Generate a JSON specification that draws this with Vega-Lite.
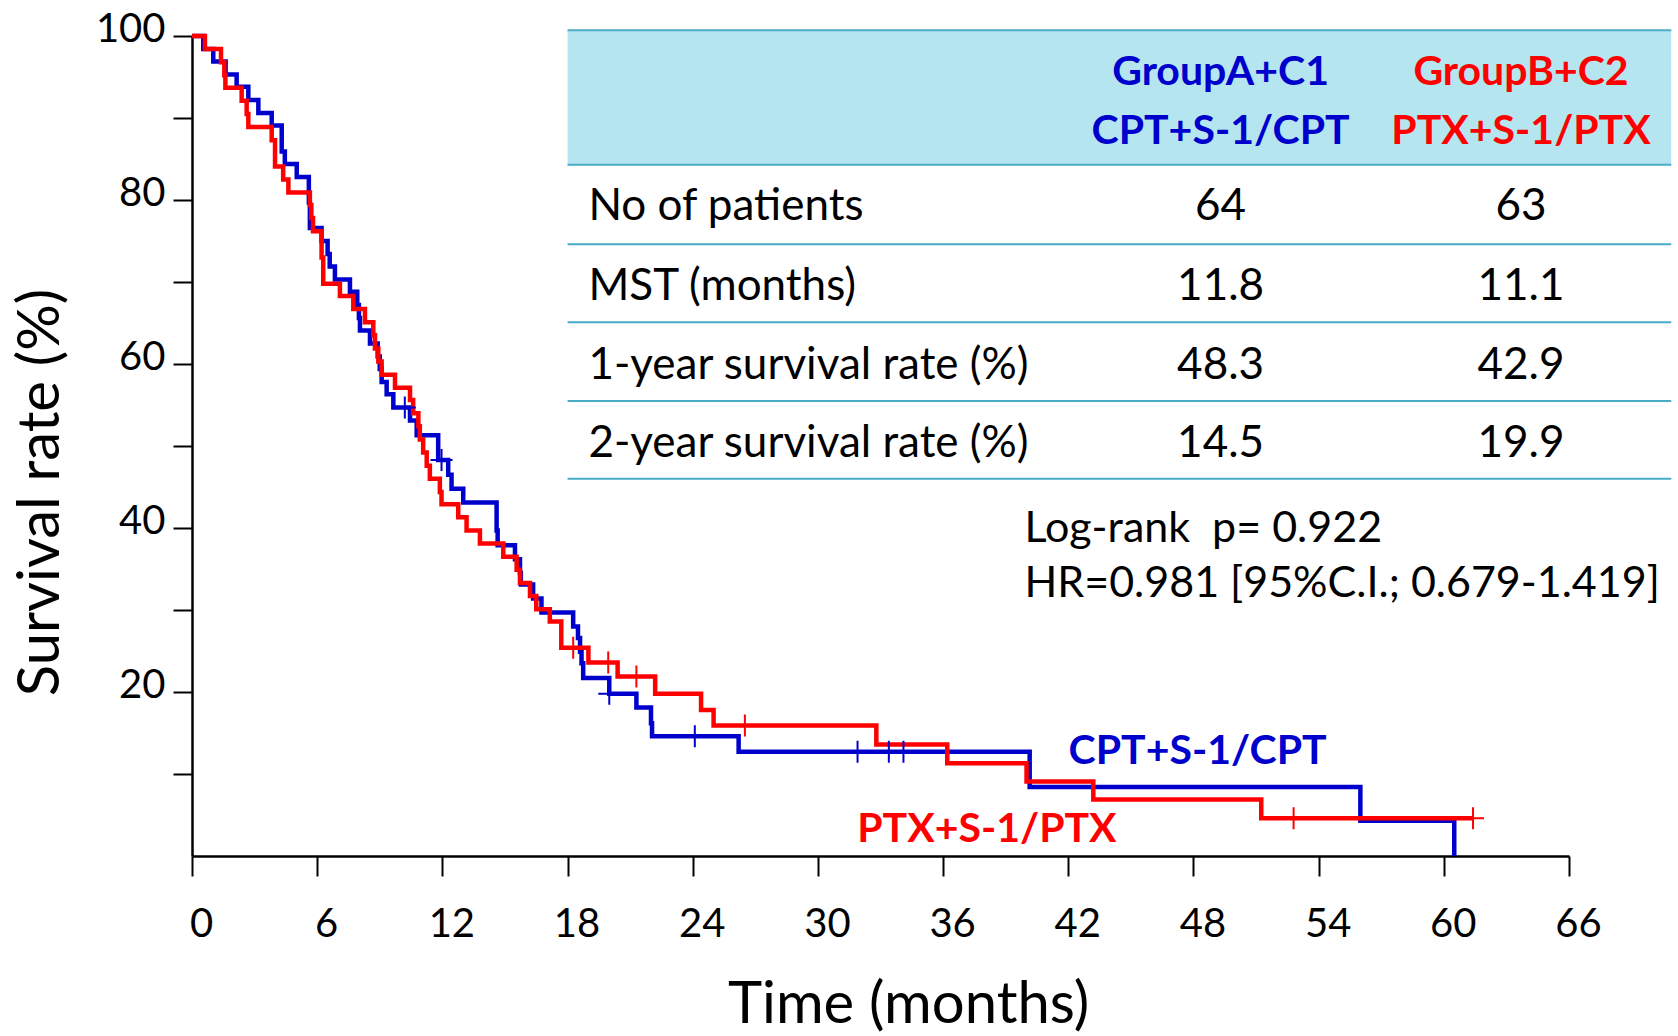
{
  "$schema": "https://vega.github.io/schema/vega-lite/v6.json",
  "width": 1377,
  "height": 820,
  "autosize": {"type": "none"},
  "padding": {"left": 192, "top": 36, "right": 109, "bottom": 180},
  "background": "white",
  "config": {"view": {"stroke": null}, "font": "Lato"},
  "datasets": {
    "km": [
      {"group": "CPT+S-1/CPT", "t": 0, "s": 100},
      {"group": "CPT+S-1/CPT", "t": 0.54, "s": 98.4},
      {"group": "CPT+S-1/CPT", "t": 1.02, "s": 96.9},
      {"group": "CPT+S-1/CPT", "t": 1.61, "s": 95.3},
      {"group": "CPT+S-1/CPT", "t": 2.14, "s": 93.8},
      {"group": "CPT+S-1/CPT", "t": 2.7, "s": 92.2},
      {"group": "CPT+S-1/CPT", "t": 3.18, "s": 90.6},
      {"group": "CPT+S-1/CPT", "t": 3.82, "s": 89.1},
      {"group": "CPT+S-1/CPT", "t": 4.3, "s": 85.9},
      {"group": "CPT+S-1/CPT", "t": 4.45, "s": 84.4},
      {"group": "CPT+S-1/CPT", "t": 5.02, "s": 82.8},
      {"group": "CPT+S-1/CPT", "t": 5.6, "s": 79.7},
      {"group": "CPT+S-1/CPT", "t": 5.65, "s": 76.6},
      {"group": "CPT+S-1/CPT", "t": 6.21, "s": 75.0},
      {"group": "CPT+S-1/CPT", "t": 6.5, "s": 73.4},
      {"group": "CPT+S-1/CPT", "t": 6.6, "s": 71.9},
      {"group": "CPT+S-1/CPT", "t": 6.85, "s": 70.3},
      {"group": "CPT+S-1/CPT", "t": 7.57, "s": 68.8},
      {"group": "CPT+S-1/CPT", "t": 7.92, "s": 67.2},
      {"group": "CPT+S-1/CPT", "t": 8.0, "s": 65.6},
      {"group": "CPT+S-1/CPT", "t": 8.05, "s": 64.1},
      {"group": "CPT+S-1/CPT", "t": 8.53, "s": 62.5},
      {"group": "CPT+S-1/CPT", "t": 8.9, "s": 60.9},
      {"group": "CPT+S-1/CPT", "t": 9.0, "s": 59.4},
      {"group": "CPT+S-1/CPT", "t": 9.09, "s": 57.8},
      {"group": "CPT+S-1/CPT", "t": 9.33, "s": 56.3},
      {"group": "CPT+S-1/CPT", "t": 9.65, "s": 54.7},
      {"group": "CPT+S-1/CPT", "t": 10.45, "s": 53.1},
      {"group": "CPT+S-1/CPT", "t": 10.77, "s": 51.3},
      {"group": "CPT+S-1/CPT", "t": 11.8, "s": 48.3},
      {"group": "CPT+S-1/CPT", "t": 12.28, "s": 46.5},
      {"group": "CPT+S-1/CPT", "t": 12.44, "s": 44.8},
      {"group": "CPT+S-1/CPT", "t": 13.0, "s": 43.1},
      {"group": "CPT+S-1/CPT", "t": 14.6, "s": 39.7},
      {"group": "CPT+S-1/CPT", "t": 14.65, "s": 37.9},
      {"group": "CPT+S-1/CPT", "t": 15.48, "s": 36.2},
      {"group": "CPT+S-1/CPT", "t": 15.72, "s": 34.5},
      {"group": "CPT+S-1/CPT", "t": 15.76, "s": 33.1},
      {"group": "CPT+S-1/CPT", "t": 16.35, "s": 31.4},
      {"group": "CPT+S-1/CPT", "t": 16.75, "s": 29.7},
      {"group": "CPT+S-1/CPT", "t": 18.27, "s": 28.0},
      {"group": "CPT+S-1/CPT", "t": 18.5, "s": 26.6},
      {"group": "CPT+S-1/CPT", "t": 18.6, "s": 24.9},
      {"group": "CPT+S-1/CPT", "t": 18.67, "s": 23.5},
      {"group": "CPT+S-1/CPT", "t": 18.75, "s": 21.7},
      {"group": "CPT+S-1/CPT", "t": 20.0, "s": 19.8},
      {"group": "CPT+S-1/CPT", "t": 21.3, "s": 18.1},
      {"group": "CPT+S-1/CPT", "t": 22.0, "s": 16.2},
      {"group": "CPT+S-1/CPT", "t": 22.05, "s": 14.6},
      {"group": "CPT+S-1/CPT", "t": 26.2, "s": 12.7},
      {"group": "CPT+S-1/CPT", "t": 40.15, "s": 8.4},
      {"group": "CPT+S-1/CPT", "t": 56.0, "s": 4.3},
      {"group": "CPT+S-1/CPT", "t": 60.5, "s": 0},
      {"group": "PTX+S-1/PTX", "t": 0, "s": 100},
      {"group": "PTX+S-1/PTX", "t": 0.62, "s": 98.4},
      {"group": "PTX+S-1/PTX", "t": 1.39, "s": 96.8},
      {"group": "PTX+S-1/PTX", "t": 1.55, "s": 95.2},
      {"group": "PTX+S-1/PTX", "t": 1.6, "s": 93.7},
      {"group": "PTX+S-1/PTX", "t": 2.38, "s": 92.1},
      {"group": "PTX+S-1/PTX", "t": 2.62, "s": 90.5},
      {"group": "PTX+S-1/PTX", "t": 2.7, "s": 88.9},
      {"group": "PTX+S-1/PTX", "t": 3.82, "s": 87.3},
      {"group": "PTX+S-1/PTX", "t": 3.98, "s": 84.1},
      {"group": "PTX+S-1/PTX", "t": 4.37, "s": 82.5},
      {"group": "PTX+S-1/PTX", "t": 4.62, "s": 80.9},
      {"group": "PTX+S-1/PTX", "t": 5.65, "s": 79.4},
      {"group": "PTX+S-1/PTX", "t": 5.72, "s": 77.8},
      {"group": "PTX+S-1/PTX", "t": 5.8, "s": 76.2},
      {"group": "PTX+S-1/PTX", "t": 6.21, "s": 73.0},
      {"group": "PTX+S-1/PTX", "t": 6.29, "s": 69.8},
      {"group": "PTX+S-1/PTX", "t": 7.09, "s": 68.3},
      {"group": "PTX+S-1/PTX", "t": 7.73, "s": 66.7},
      {"group": "PTX+S-1/PTX", "t": 8.29, "s": 65.1},
      {"group": "PTX+S-1/PTX", "t": 8.69, "s": 63.5},
      {"group": "PTX+S-1/PTX", "t": 8.77, "s": 61.9},
      {"group": "PTX+S-1/PTX", "t": 8.93, "s": 60.3},
      {"group": "PTX+S-1/PTX", "t": 9.09, "s": 58.7},
      {"group": "PTX+S-1/PTX", "t": 9.73, "s": 57.1},
      {"group": "PTX+S-1/PTX", "t": 10.45, "s": 55.6},
      {"group": "PTX+S-1/PTX", "t": 10.6, "s": 54.0},
      {"group": "PTX+S-1/PTX", "t": 10.85, "s": 52.4},
      {"group": "PTX+S-1/PTX", "t": 10.92, "s": 50.8},
      {"group": "PTX+S-1/PTX", "t": 11.08, "s": 49.2},
      {"group": "PTX+S-1/PTX", "t": 11.25, "s": 47.6},
      {"group": "PTX+S-1/PTX", "t": 11.4, "s": 46.0},
      {"group": "PTX+S-1/PTX", "t": 11.88, "s": 44.4},
      {"group": "PTX+S-1/PTX", "t": 11.96, "s": 42.9},
      {"group": "PTX+S-1/PTX", "t": 12.76, "s": 41.3},
      {"group": "PTX+S-1/PTX", "t": 13.16, "s": 39.7},
      {"group": "PTX+S-1/PTX", "t": 13.8, "s": 38.1},
      {"group": "PTX+S-1/PTX", "t": 14.92, "s": 36.5},
      {"group": "PTX+S-1/PTX", "t": 15.56, "s": 34.9},
      {"group": "PTX+S-1/PTX", "t": 15.72, "s": 33.3},
      {"group": "PTX+S-1/PTX", "t": 16.2, "s": 31.7},
      {"group": "PTX+S-1/PTX", "t": 16.5, "s": 30.1},
      {"group": "PTX+S-1/PTX", "t": 17.15, "s": 28.6},
      {"group": "PTX+S-1/PTX", "t": 17.7, "s": 25.4},
      {"group": "PTX+S-1/PTX", "t": 19.0, "s": 23.6},
      {"group": "PTX+S-1/PTX", "t": 20.4, "s": 21.9},
      {"group": "PTX+S-1/PTX", "t": 22.2, "s": 19.8},
      {"group": "PTX+S-1/PTX", "t": 24.4, "s": 17.8},
      {"group": "PTX+S-1/PTX", "t": 25.0, "s": 15.9},
      {"group": "PTX+S-1/PTX", "t": 32.8, "s": 13.6},
      {"group": "PTX+S-1/PTX", "t": 36.2, "s": 11.3},
      {"group": "PTX+S-1/PTX", "t": 40.0, "s": 9.1},
      {"group": "PTX+S-1/PTX", "t": 43.2, "s": 6.9},
      {"group": "PTX+S-1/PTX", "t": 51.25, "s": 4.6},
      {"group": "PTX+S-1/PTX", "t": 61.4, "s": 4.6}
    ],
    "censor": [
      {"group": "CPT+S-1/CPT", "t": 10.2, "s": 54.7},
      {"group": "CPT+S-1/CPT", "t": 11.96, "s": 48.3},
      {"group": "CPT+S-1/CPT", "t": 20.0, "s": 19.8},
      {"group": "CPT+S-1/CPT", "t": 24.1, "s": 14.6},
      {"group": "CPT+S-1/CPT", "t": 31.9, "s": 12.7},
      {"group": "CPT+S-1/CPT", "t": 33.4, "s": 12.7},
      {"group": "CPT+S-1/CPT", "t": 34.1, "s": 12.7},
      {"group": "PTX+S-1/PTX", "t": 18.27, "s": 25.4},
      {"group": "PTX+S-1/PTX", "t": 19.95, "s": 23.6},
      {"group": "PTX+S-1/PTX", "t": 21.3, "s": 21.9},
      {"group": "PTX+S-1/PTX", "t": 26.5, "s": 15.9},
      {"group": "PTX+S-1/PTX", "t": 52.8, "s": 4.6},
      {"group": "PTX+S-1/PTX", "t": 61.4, "s": 4.6}
    ],
    "band": [{"t": 18.0, "t2": 70.9, "s": 84.3, "s2": 100.7}],
    "tableLines": [{"s": 100.7}, {"s": 84.3}, {"s": 74.6}, {"s": 65.1}, {"s": 55.5}, {"s": 46.0}],
    "boldLabels": [
      {"group": "CPT+S-1/CPT", "text": "GroupA+C1", "t": 49.3, "s": 95.8},
      {"group": "CPT+S-1/CPT", "text": "CPT+S-1/CPT", "t": 49.3, "s": 88.7},
      {"group": "PTX+S-1/PTX", "text": "GroupB+C2", "t": 63.7, "s": 95.8},
      {"group": "PTX+S-1/PTX", "text": "PTX+S-1/PTX", "t": 63.7, "s": 88.7},
      {"group": "CPT+S-1/CPT", "text": "CPT+S-1/CPT", "t": 48.2, "s": 13.0},
      {"group": "PTX+S-1/PTX", "text": "PTX+S-1/PTX", "t": 38.1, "s": 3.5}
    ],
    "rowLabels": [
      {"text": "No of patients", "t": 19.0, "s": 79.5},
      {"text": "MST (months)", "t": 19.0, "s": 69.8},
      {"text": "1-year survival rate (%)", "t": 19.0, "s": 60.1},
      {"text": "2-year survival rate (%)", "t": 19.0, "s": 50.6}
    ],
    "values": [
      {"text": "64", "t": 49.3, "s": 79.5},
      {"text": "11.8", "t": 49.3, "s": 69.8},
      {"text": "48.3", "t": 49.3, "s": 60.1},
      {"text": "14.5", "t": 49.3, "s": 50.6},
      {"text": "63", "t": 63.7, "s": 79.5},
      {"text": "11.1", "t": 63.7, "s": 69.8},
      {"text": "42.9", "t": 63.7, "s": 60.1},
      {"text": "19.9", "t": 63.7, "s": 50.6}
    ],
    "stats": [
      {"text": "Log-rank\u00a0 p= 0.922", "t": 39.9, "s": 40.3},
      {"text": "HR=0.981 [95%C.I.; 0.679-1.419]", "t": 39.9, "s": 33.5}
    ]
  },
  "layer": [
    {
      "data": {"name": "band"},
      "mark": {"type": "rect", "color": "#b5e6f0", "clip": false},
      "encoding": {
        "x": {"field": "t", "type": "quantitative"},
        "x2": {"field": "t2"},
        "y": {"field": "s", "type": "quantitative"},
        "y2": {"field": "s2"}
      }
    },
    {
      "data": {"name": "tableLines"},
      "mark": {"type": "rule", "color": "#4aacc6", "strokeWidth": 2, "clip": false},
      "encoding": {
        "x": {"datum": 18.0, "type": "quantitative"},
        "x2": {"datum": 70.9},
        "y": {"field": "s", "type": "quantitative"}
      }
    },
    {
      "data": {"name": "km"},
      "mark": {"type": "line", "interpolate": "step-after", "strokeWidth": 4.5, "clip": false},
      "encoding": {
        "x": {
          "field": "t", "type": "quantitative",
          "scale": {"domain": [0, 66], "nice": false, "zero": false},
          "axis": {
            "values": [0, 6, 12, 18, 24, 30, 36, 42, 48, 54, 60, 66],
            "title": "Time (months)",
            "titleFontSize": 58, "titleFontWeight": "normal", "titleColor": "black",
            "titleX": 716, "titleY": 149, "titleBaseline": "middle", "titleAlign": "center", "titleAnchor": null,
            "labelFontSize": 40, "labelColor": "black", "labelBaseline": "middle", "labelPadding": 48, "labelOffset": 9,
            "tickSize": 20, "tickColor": "black", "tickWidth": 2,
            "domainColor": "black", "domainWidth": 2.5, "grid": false, "labelFlush": false
          }
        },
        "y": {
          "field": "s", "type": "quantitative",
          "scale": {"domain": [0, 100], "nice": false},
          "axis": {
            "values": [10, 20, 30, 40, 50, 60, 70, 80, 90, 100],
            "labelExpr": "datum.value % 20 === 0 ? datum.label : ''",
            "title": "Survival rate (%)",
            "titleFontSize": 58, "titleFontWeight": "normal", "titleColor": "black",
            "titleX": -151, "titleY": 456, "titleBaseline": "middle", "titleAlign": "center", "titleAnchor": null, "titleAngle": -90,
            "labelFontSize": 40, "labelColor": "black", "labelPadding": 8, "labelOffset": -7,
            "tickSize": 19, "tickColor": "black", "tickWidth": 2,
            "domainColor": "black", "domainWidth": 2.5, "grid": false, "labelFlush": false
          }
        },
        "color": {
          "field": "group", "type": "nominal",
          "scale": {"domain": ["CPT+S-1/CPT", "PTX+S-1/PTX"], "range": ["#0000cc", "#ff0000"]},
          "legend": null
        },
        "order": {"field": "t", "type": "quantitative"}
      }
    },
    {
      "data": {"name": "censor"},
      "mark": {"type": "point", "shape": "M-1,0L1,0M0,-1L0,1", "size": 484, "filled": false, "strokeWidth": 2, "opacity": 1, "clip": false},
      "encoding": {
        "x": {"field": "t", "type": "quantitative"},
        "y": {"field": "s", "type": "quantitative"},
        "color": {"field": "group", "type": "nominal", "legend": null}
      }
    },
    {
      "data": {"name": "boldLabels"},
      "mark": {"type": "text", "fontSize": 41, "fontWeight": "bold", "align": "center", "baseline": "middle", "dy": 3, "clip": false},
      "encoding": {
        "x": {"field": "t", "type": "quantitative"},
        "y": {"field": "s", "type": "quantitative"},
        "text": {"field": "text"},
        "color": {"field": "group", "type": "nominal", "legend": null}
      }
    },
    {
      "data": {"name": "rowLabels"},
      "mark": {"type": "text", "fontSize": 44, "align": "left", "baseline": "middle", "dy": 3, "color": "black", "clip": false},
      "encoding": {
        "x": {"field": "t", "type": "quantitative"},
        "y": {"field": "s", "type": "quantitative"},
        "text": {"field": "text"}
      }
    },
    {
      "data": {"name": "values"},
      "mark": {"type": "text", "fontSize": 44, "align": "center", "baseline": "middle", "dy": 3, "color": "black", "clip": false},
      "encoding": {
        "x": {"field": "t", "type": "quantitative"},
        "y": {"field": "s", "type": "quantitative"},
        "text": {"field": "text"}
      }
    },
    {
      "data": {"name": "stats"},
      "mark": {"type": "text", "fontSize": 43, "align": "left", "baseline": "middle", "dy": 3, "color": "black", "clip": false},
      "encoding": {
        "x": {"field": "t", "type": "quantitative"},
        "y": {"field": "s", "type": "quantitative"},
        "text": {"field": "text"}
      }
    }
  ]
}
